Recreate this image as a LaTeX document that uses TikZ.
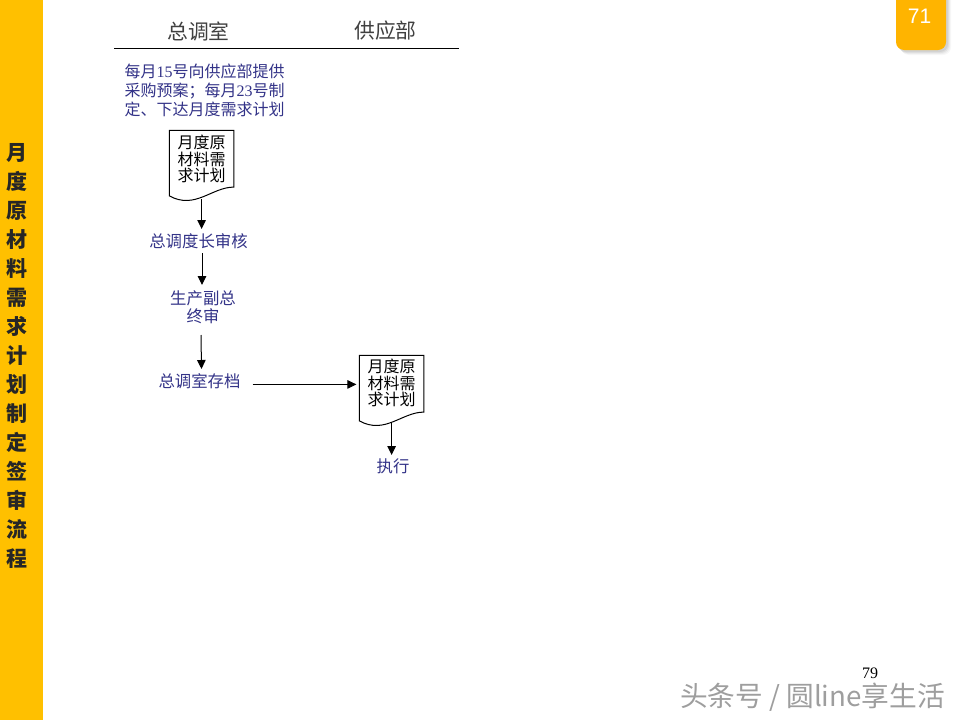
\documentclass[tikz,border=0pt]{standalone}
\usepackage{fontspec}
\setmainfont{Noto Sans CJK SC}
\newfontfamily\latinserif{Liberation Serif}
\newfontfamily\latinsans{Liberation Sans}
\usetikzlibrary{arrows.meta,calc}
\definecolor{sidebar}{HTML}{FFC000}
\definecolor{badge}{HTML}{FFB400}
\definecolor{flowtext}{HTML}{333388}
\tikzset{
  x=1pt,y=-1pt,
  flowlabel/.style={inner sep=0pt,outer sep=0pt,text=flowtext,align=center,font=\fontsize{16.4}{18}\selectfont},
  header/.style={inner sep=0pt,text=black!75,font=\fontsize{20.8}{24}\selectfont},
  docbox/.style={inner sep=0pt,outer sep=0pt,minimum width=64.4pt,minimum height=70pt,anchor=north west},
  doctext/.style={inner sep=0pt,align=center,font=\fontsize{16}{16.5}\selectfont},
  docline/.style={draw=black,line width=1pt,fill=white},
  flowarrow/.style={draw=black,line width=1pt,-{Triangle[length=9pt,width=8.5pt]}},
}
\newcommand{\docshape}[1]{%
  \path[docline] (#1.north west) -- (#1.north east) -- ($(#1.north east)+(0,56.7)$)
    .. controls ($(#1.north east)+(-22,56.7)$) and ($(#1.north west)+(25.6,79.6)$) .. ($(#1.north west)+(0,65.5)$)
    -- cycle;}
\begin{document}
\begin{tikzpicture}
\useasboundingbox[fill=white] (0,0) rectangle (960,720);
\fill[sidebar] (0,0) rectangle (43,720);
\node[inner sep=0pt,align=center,font=\fontsize{21}{29}\bfseries\selectfont,text=black!85] (title) at (17,356)
  {月\\度\\原\\材\\料\\需\\求\\计\\划\\制\\定\\签\\审\\流\\程};
% page badge
\foreach \o/\a in {5/0.03,4/0.04,3/0.05,2/0.06}{
  \fill[black,opacity=\a,rounded corners=8pt] (896+\o,-12) rectangle (946+\o,50+\o);}
\fill[badge,rounded corners=8pt] (896,-12) rectangle (946,50);
\node[inner sep=0pt,text=white,font=\latinsans\fontsize{21}{24}\selectfont] (badgeno) at (919.5,16.5) {71};
% header
\node[header] (h1) at (198.5,31) {总调室};
\node[header] (h2) at (385.5,31) {供应部};
\coordinate (ruleL) at (114,48);
\coordinate (ruleR) at (459,48);
\draw[black,line width=0.9pt] (ruleL) -- (ruleR);
% intro
\node[flowlabel,font=\fontsize{16}{19.2}\selectfont] (intro) at (204.5,90.5)
  {每月{\latinserif 15}号向供应部提供\\采购预案；每月{\latinserif 23}号制\\定、下达月度需求计划};
% documents
\node[docbox] (d1) at (169.4,130.4) {};
\docshape{d1}
\node[doctext] (d1t) at (201.5,159) {月度原\\材料需\\求计划};
\node[flowlabel,minimum height=24pt] (t1) at (198.5,241) {总调度长审核};
\node[flowlabel,minimum height=50pt] (t2) at (203,307) {生产副总\\终审};
\node[flowlabel,minimum height=24pt,minimum width=106pt] (t3) at (199.5,381) {总调室存档};
\node[docbox] (d2) at (359.4,355.4) {};
\docshape{d2}
\node[doctext] (d2t) at (391.5,383) {月度原\\材料需\\求计划};
\node[flowlabel,minimum height=22pt] (t4) at (393,466) {执行};
% connectors
\draw[flowarrow] ($(d1.south)+(0,-1)$) -- (t1.north -| d1.south);
\draw[flowarrow] ($(t1.south)+(3.5,0)$) -- ($(t2.north)+(-1,3)$);
\draw[flowarrow] ($(t2.south)+(-2,3)$) -- ($(t3.north)+(2,0)$);
\draw[flowarrow] ($(t3.east)+(0,3.4)$) -- ($(d2.north west)+(-3,29)$);
\draw[flowarrow] ($(d2.south)+(0,-2)$) -- (t4.north -| d2.south);
% footer
\node[inner sep=0pt,font=\latinserif\fontsize{16}{19}\selectfont] (pageno) at (870,673) {79};
\node[inner sep=0pt,text=black!38,font=\fontsize{27.7}{30}\selectfont] (mark) at (812.5,697) {头条号 / 圆line享生活};
\end{tikzpicture}
\end{document}
